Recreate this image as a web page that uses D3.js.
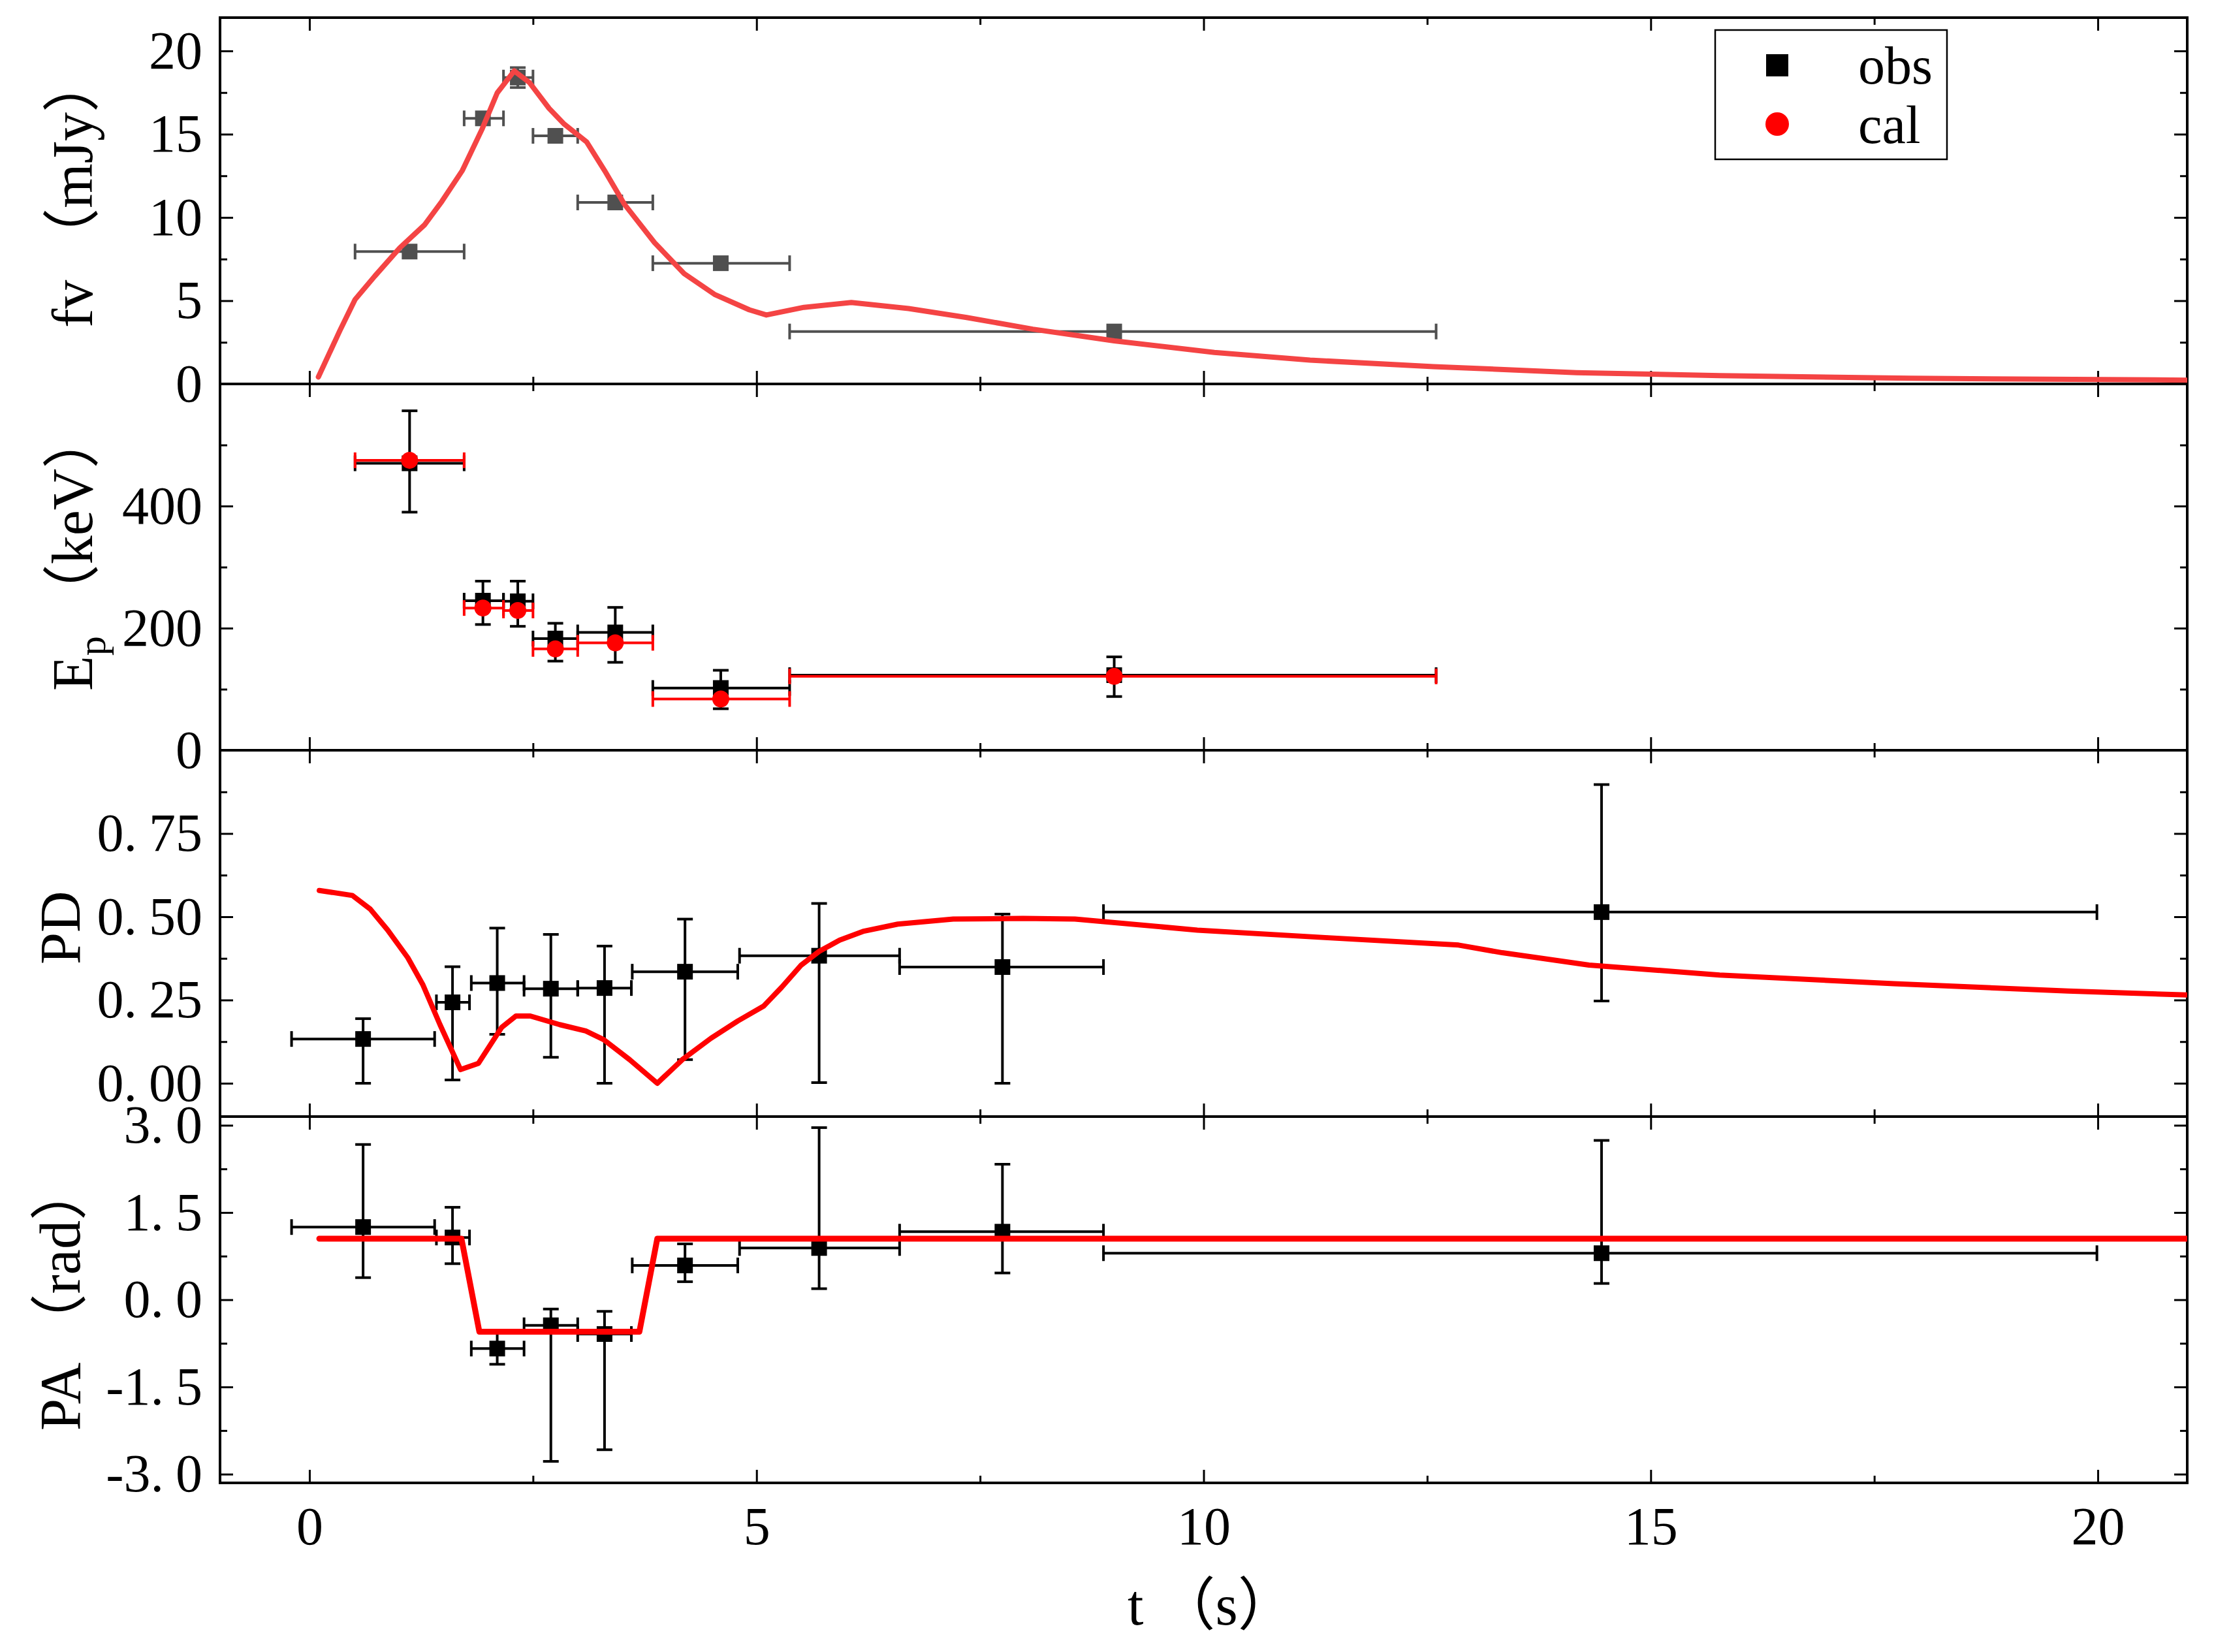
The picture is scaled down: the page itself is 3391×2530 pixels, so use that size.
<!DOCTYPE html>
<html>
<head>
<meta charset="utf-8">
<script src="https://cdn.jsdelivr.net/npm/d3@7"></script>
<style>
  body { margin: 0; background: #fff; }
  svg text { font-family: "Liberation Serif", "Noto Sans CJK SC", serif; }
</style>
</head>
<body>
<div id="chart"></div>
<script>
// time bins shared by the flux and Ep panels
const binT  = [1.12, 1.94, 2.33, 2.75, 3.42, 4.60, 9.00];
const binLo = [0.51, 1.73, 2.17, 2.50, 3.00, 3.84, 5.37];
const binHi = [1.73, 2.17, 2.50, 3.00, 3.84, 5.37, 12.60];

// flux density (mJy)
const fluxObs = [7.95, 15.95, 18.4, 14.9, 10.9, 7.25, 3.15];
const fluxErr = [0, 0, 0.6, 0, 0, 0, 0];

// peak energy (keV)
const epObs = [470, 245, 244, 183, 193, 102, 123];
const epLo  = [390, 206, 203, 146, 144, 68, 88];
const epHi  = [556, 277, 277, 208, 234, 131, 153];
const epCal = [475, 233, 229, 166, 176, 84, 121];

// polarization bins
const polT  = [0.60, 1.60, 2.10, 2.70, 3.30, 4.20, 5.70, 7.75, 14.45];
const polLo = [-0.20, 1.42, 1.81, 2.40, 3.00, 3.61, 4.81, 6.60, 8.88];
const polHi = [1.40, 1.79, 2.40, 3.00, 3.60, 4.79, 6.60, 8.88, 19.99];

const pdObs = [0.133, 0.243, 0.301, 0.284, 0.286, 0.335, 0.383, 0.349, 0.514];
const pdLo  = [0.0, 0.01, 0.147, 0.078, 0.0, 0.071, 0.002, 0.0, 0.247];
const pdHi  = [0.194, 0.35, 0.466, 0.447, 0.412, 0.493, 0.54, 0.508, 0.897];

const paObs = [1.25, 1.07, -0.84, -0.44, -0.59, 0.59, 0.89, 1.17, 0.80];
const paLo  = [0.38, 0.62, -1.11, -2.78, -2.58, 0.31, 0.19, 0.46, 0.28];
const paHi  = [2.67, 1.59, -0.55, -0.16, -0.20, 0.96, 2.96, 2.33, 2.74];

// model curves
const fluxCurveT = [0.10, 0.34, 0.51, 0.73, 1.01, 1.29, 1.48, 1.71, 1.93, 2.10, 2.29, 2.46, 2.68, 2.85,
    3.10, 3.30, 3.52, 3.86, 4.19, 4.53, 4.92, 5.11, 5.53, 6.06, 6.70, 7.35, 8.09, 9.0, 10.12, 11.19,
    12.57, 14.17, 15.77, 17.9, 21.0];
const fluxCurveV = [0.42, 3.2, 5.07, 6.47, 8.17, 9.57, 10.96, 12.82, 15.3, 17.48, 18.8, 18.1, 16.55, 15.6,
    14.53, 12.82, 10.81, 8.48, 6.63, 5.38, 4.45, 4.14, 4.6, 4.89, 4.53, 3.99, 3.29, 2.59, 1.89, 1.43,
    1.04, 0.68, 0.5, 0.34, 0.23];

const pdCurveT = [0.11, 0.48, 0.68, 0.875, 1.10, 1.27, 1.46, 1.69, 1.89, 2.15, 2.31, 2.47, 2.80, 3.09,
    3.29, 3.58, 3.89, 4.17, 4.49, 4.79, 5.08, 5.28, 5.50, 5.70, 5.93, 6.19, 6.58, 7.2, 7.98, 8.56, 9.93,
    11.39, 12.85, 13.34, 14.31, 15.77, 17.72, 19.67, 21.0];
const pdCurveV = [0.579, 0.564, 0.523, 0.46, 0.377, 0.295, 0.176, 0.041, 0.06, 0.168, 0.202, 0.202, 0.176, 0.157,
    0.131, 0.071, 0.0, 0.071, 0.135, 0.187, 0.232, 0.288, 0.355, 0.396, 0.43, 0.456, 0.478, 0.493, 0.495, 0.493, 0.46,
    0.437, 0.415, 0.392, 0.355, 0.325, 0.299, 0.277, 0.265];

const paCurveT = [0.11, 1.70, 1.90, 3.69, 3.89, 21.0];
const paCurveV = [1.05, 1.05, -0.55, -0.55, 1.05, 1.05];

// ticks
const xTicks = [0, 5, 10, 15, 20];
const xMinor = [2.5, 7.5, 12.5, 17.5];

const width = 3391, height = 2530;
const left = 337, right = 3350;
const panelTop = [27, 588, 1149, 1710];
const panelH = 561;

const svg = d3.select("#chart")
    .append("svg")
    .attr("width", width)
    .attr("height", height);

const x = d3.scaleLinear().domain([-1, 21]).range([left, right]);

// put a little gap after the decimal point, like the original font does
function spaceDecimal(sel, fmt) {
    sel.selectAll(".tick text").each(function (d) {
        const s = fmt(d);
        const t = d3.select(this).text(null);
        const k = s.indexOf(".");
        if (k < 0) { t.text(s); return; }
        t.append("tspan").text(s.slice(0, k + 1));
        t.append("tspan").attr("dx", "0.22em").text(s.slice(k + 1));
    });
}

function styleAxis(g) {
    g.select(".domain").remove();
    g.attr("font-size", 82).attr("font-family", null);
    g.selectAll("line").attr("stroke", "#000").attr("stroke-width", 3);
    g.selectAll("text").attr("fill", "#000");
}

function drawPanel(i, yDomain, major, minor, fmt, showX) {
    const top = panelTop[i], bottom = top + panelH;
    const y = d3.scaleLinear().domain(yDomain).range([bottom, top]);
    const g = svg.append("g");

    // inward ticks on every side
    g.append("g").attr("transform", `translate(${left},0)`)
        .call(d3.axisLeft(y).tickValues(major).tickSizeInner(-20).tickSizeOuter(0).tickPadding(27).tickFormat(fmt))
        .call(styleAxis)
        .call(a => spaceDecimal(a, fmt));
    g.append("g").attr("transform", `translate(${left},0)`)
        .call(d3.axisLeft(y).tickValues(minor).tickSizeInner(-11).tickSizeOuter(0).tickFormat(""))
        .call(styleAxis);
    g.append("g").attr("transform", `translate(${right},0)`)
        .call(d3.axisRight(y).tickValues(major).tickSizeInner(-20).tickSizeOuter(0).tickFormat(""))
        .call(styleAxis);
    g.append("g").attr("transform", `translate(${right},0)`)
        .call(d3.axisRight(y).tickValues(minor).tickSizeInner(-11).tickSizeOuter(0).tickFormat(""))
        .call(styleAxis);
    g.append("g").attr("transform", `translate(0,${top})`)
        .call(d3.axisTop(x).tickValues(xTicks).tickSizeInner(-20).tickSizeOuter(0).tickFormat(""))
        .call(styleAxis);
    g.append("g").attr("transform", `translate(0,${top})`)
        .call(d3.axisTop(x).tickValues(xMinor).tickSizeInner(-11).tickSizeOuter(0).tickFormat(""))
        .call(styleAxis);
    g.append("g").attr("transform", `translate(0,${bottom})`)
        .call(d3.axisBottom(x).tickValues(xTicks).tickSizeInner(-20).tickSizeOuter(0).tickPadding(36)
            .tickFormat(showX ? d3.format("d") : ""))
        .call(styleAxis);
    g.append("g").attr("transform", `translate(0,${bottom})`)
        .call(d3.axisBottom(x).tickValues(xMinor).tickSizeInner(-11).tickSizeOuter(0).tickFormat(""))
        .call(styleAxis);

    g.append("rect")
        .attr("x", left).attr("y", top)
        .attr("width", right - left).attr("height", panelH)
        .attr("fill", "none").attr("stroke", "#000").attr("stroke-width", 4);

    svg.append("clipPath").attr("id", "clip" + i)
        .append("rect")
        .attr("x", left).attr("y", top)
        .attr("width", right - left).attr("height", panelH);

    return { g, y };
}

function curve(panel, ts, vs, color, w, i) {
    const line = d3.line().x(d => x(d[0])).y(d => panel.y(d[1]));
    panel.g.append("path")
        .datum(ts.map((t, k) => [t, vs[k]]))
        .attr("d", line)
        .attr("clip-path", `url(#clip${i})`)
        .attr("fill", "none")
        .attr("stroke", color)
        .attr("stroke-width", w)
        .attr("stroke-linejoin", "round")
        .attr("stroke-linecap", "round");
}

// x error bar with end caps
function xErr(panel, tLo, tHi, v, color) {
    const cap = 12, yy = panel.y(v);
    const g = panel.g.append("g").attr("stroke", color).attr("stroke-width", 4);
    g.append("line").attr("x1", x(tLo)).attr("x2", x(tHi)).attr("y1", yy).attr("y2", yy);
    g.append("line").attr("x1", x(tLo)).attr("x2", x(tLo)).attr("y1", yy - cap).attr("y2", yy + cap);
    g.append("line").attr("x1", x(tHi)).attr("x2", x(tHi)).attr("y1", yy - cap).attr("y2", yy + cap);
}

function yErr(panel, t, lo, hi, color) {
    if (lo === hi) return;
    const cap = 12, xx = x(t);
    const g = panel.g.append("g").attr("stroke", color).attr("stroke-width", 4);
    g.append("line").attr("x1", xx).attr("x2", xx).attr("y1", panel.y(lo)).attr("y2", panel.y(hi));
    g.append("line").attr("x1", xx - cap).attr("x2", xx + cap).attr("y1", panel.y(lo)).attr("y2", panel.y(lo));
    g.append("line").attr("x1", xx - cap).attr("x2", xx + cap).attr("y1", panel.y(hi)).attr("y2", panel.y(hi));
}

function square(panel, t, v, color) {
    panel.g.append("rect")
        .attr("x", x(t) - 12).attr("y", panel.y(v) - 12)
        .attr("width", 24).attr("height", 24)
        .attr("fill", color);
}

function circle(panel, t, v, color) {
    panel.g.append("circle")
        .attr("cx", x(t)).attr("cy", panel.y(v)).attr("r", 13)
        .attr("fill", color);
}

const grey = "#505050";
const red = "#ff0000";

// ---- panel 1: flux ----
const p1 = drawPanel(0, [0, 22], [0, 5, 10, 15, 20], [2.5, 7.5, 12.5, 17.5, 22.5].filter(v => v <= 22), d3.format("d"), false);
binT.forEach((t, k) => {
    xErr(p1, binLo[k], binHi[k], fluxObs[k], grey);
    yErr(p1, t, fluxObs[k] - fluxErr[k], fluxObs[k] + fluxErr[k], grey);
    square(p1, t, fluxObs[k], grey);
});
curve(p1, fluxCurveT, fluxCurveV, "#f44444", 8, 0);

// ---- panel 2: Ep ----
const p2 = drawPanel(1, [0, 600], [0, 200, 400], [100, 300, 500], d3.format("d"), false);
binT.forEach((t, k) => {
    xErr(p2, binLo[k], binHi[k], epObs[k], "#000");
    yErr(p2, t, epLo[k], epHi[k], "#000");
    square(p2, t, epObs[k], "#000");
});
binT.forEach((t, k) => {
    xErr(p2, binLo[k], binHi[k], epCal[k], red);
    circle(p2, t, epCal[k], red);
});

// ---- panel 3: PD ----
const p3 = drawPanel(2, [-0.1, 1.0], [0, 0.25, 0.5, 0.75], [0.125, 0.375, 0.625, 0.875], v => v.toFixed(2), false);
polT.forEach((t, k) => {
    xErr(p3, polLo[k], polHi[k], pdObs[k], "#000");
    yErr(p3, t, pdLo[k], pdHi[k], "#000");
    square(p3, t, pdObs[k], "#000");
});
curve(p3, pdCurveT, pdCurveV, red, 8, 2);

// ---- panel 4: PA ----
const p4 = drawPanel(3, [-3.15, 3.15], [-3, -1.5, 0, 1.5, 3], [-2.25, -0.75, 0.75, 2.25], v => v.toFixed(1), true);
polT.forEach((t, k) => {
    xErr(p4, polLo[k], polHi[k], paObs[k], "#000");
    yErr(p4, t, paLo[k], paHi[k], "#000");
    square(p4, t, paObs[k], "#000");
});
curve(p4, paCurveT, paCurveV, red, 9, 3);

// ---- axis titles ----
const titleSize = 88;
function yTitle(bx, sy, parts) {
    const t = svg.append("text")
        .attr("transform", `translate(${bx},${sy}) rotate(-90)`)
        .attr("font-size", titleSize);
    parts(t);
}
yTitle(141, 502, t => t.text("fv （mJy）"));
yTitle(141, 1058, t => {
    t.append("tspan").text("E");
    t.append("tspan").attr("font-size", 60).attr("dy", 20).text("p");
    t.append("tspan").attr("dy", -20).text(" （keV）");
});
yTitle(122, 1477, t => t.text("PD"));
yTitle(122, 2191, t => t.text("PA （rad）"));

svg.append("text")
    .attr("x", 1727).attr("y", 2488)
    .attr("font-size", titleSize)
    .text("t （s）");

// ---- legend ----
const legend = svg.append("g");
legend.append("rect")
    .attr("x", 2627).attr("y", 46).attr("width", 355).attr("height", 198)
    .attr("fill", "#fff").attr("stroke", "#000").attr("stroke-width", 2.5);
legend.append("rect")
    .attr("x", 2705).attr("y", 83).attr("width", 34).attr("height", 34)
    .attr("fill", "#000");
legend.append("circle")
    .attr("cx", 2722).attr("cy", 190).attr("r", 18)
    .attr("fill", red);
legend.append("text").attr("x", 2846).attr("y", 128).attr("font-size", 82).text("obs");
legend.append("text").attr("x", 2846).attr("y", 219).attr("font-size", 82).text("cal");
</script>
</body>
</html>
